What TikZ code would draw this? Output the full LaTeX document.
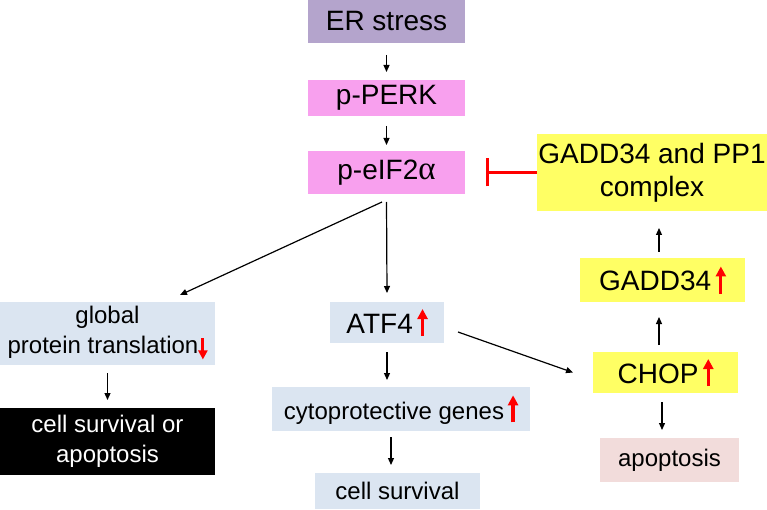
\documentclass[tikz,border=0pt]{standalone}
\usepackage{fontspec}
\setmainfont{Liberation Sans}
\newfontfamily\greekfont{Liberation Serif}
\usetikzlibrary{arrows.meta}
\definecolor{erc}{RGB}{180,164,204}
\definecolor{pinkc}{RGB}{248,160,238}
\definecolor{bluec}{RGB}{219,229,241}
\definecolor{yelc}{RGB}{255,255,100}
\definecolor{apoc}{RGB}{242,220,219}
\newcommand\redup{\tikz[baseline=0pt]\draw[red,line width=3.2pt,-{Triangle[length=10pt,width=10pt]}] (0pt,-3pt) -- (0pt,24pt);}
\newcommand\reddown{\tikz[baseline=0pt]\draw[red,line width=3pt,-{Triangle[length=9pt,width=9pt]}] (0pt,15pt) -- (0pt,-6pt);}
\begin{document}
\begin{tikzpicture}[x=1pt,y=-1pt,
  box/.style={rectangle,inner sep=0pt,outer sep=0pt,align=center,text=black},
  big/.style={font=\fontsize{28}{33}\selectfont},
  small/.style={font=\fontsize{24}{30}\selectfont},
  arr/.style={draw=black,line width=1.2pt,-{Triangle[length=7pt,width=6pt]}},
  inh/.style={draw=red,line width=3pt,-{Bar[width=28pt]}}]
\useasboundingbox (0,0) rectangle (767,510);
\fill[white] (0,0) rectangle (767,510);
% nodes
\node[box,big,fill=erc,minimum width=157pt,minimum height=43pt] (er) at (386.5,21.5) {ER stress};
\node[box,big,fill=pinkc,minimum width=157pt,minimum height=36pt] (perk) at (386.5,98) {p-PERK};
\node[box,big,fill=pinkc,minimum width=157pt,minimum height=43pt] (eif) at (386.5,172.5) {p-eIF2{\greekfont\fontsize{33}{33}\selectfont α}};
\node[box,big,fill=yelc,minimum width=230pt,minimum height=77pt] (gpp) at (652,172.5) {GADD34 and PP1\\complex};
\node[box,big,fill=yelc,minimum width=165pt,minimum height=44pt] (gadd) at (662.5,280) {GADD34\,\redup};
\node[box,big,fill=yelc,minimum width=145pt,minimum height=41pt] (chop) at (665.5,372.5) {CHOP\,\redup};
\node[box,small,fill=apoc,minimum width=139pt,minimum height=44pt] (apo) at (669.5,460) {apoptosis};
\node[box,big,fill=bluec,minimum width=114pt,minimum height=41pt] (atf) at (387,322.5) {ATF4\,\redup};
\node[box,small,fill=bluec,minimum width=215pt,minimum height=63pt] (gpt) at (107.5,333.5) {global\\protein translation\reddown};
\node[box,small,fill=black,text=white,minimum width=215pt,minimum height=67pt] (csa) at (107.5,441.5) {\textcolor{white}{cell survival or}\\\textcolor{white}{apoptosis}};
\node[box,small,fill=bluec,minimum width=258pt,minimum height=44pt] (cyto) at (401,409) {cytoprotective genes\,\redup};
\node[box,small,fill=bluec,minimum width=165pt,minimum height=36pt] (cs) at (397.5,491) {cell survival};
% connectors
\draw[arr,shorten <=12pt,shorten >=8pt] (er) -- (perk);
\draw[arr,shorten <=10pt,shorten >=6pt] (perk) -- (eif);
\draw[arr] ([yshift=-8pt]eif.south) -- ([yshift=9pt]atf.north);
\draw[arr] ([xshift=-4.5pt,yshift=-8pt]eif.south) -- ([xshift=72.5pt,yshift=7pt]gpt.north);
\draw[arr] ([yshift=-8pt]gpt.south) -- ([yshift=8pt]csa.north);
\draw[arr] ([yshift=-9pt]atf.south) -- ([xshift=-14pt,yshift=7pt]cyto.north);
\draw[arr] ([xshift=-10pt,yshift=-6pt]cyto.south) -- ([xshift=-6.5pt,yshift=8pt]cs.north);
\draw[arr] ([xshift=14pt,yshift=-9.5pt]atf.east) -- ([xshift=-20pt]chop.west);
\draw[arr] ([xshift=-3.5pt,yshift=-9pt]chop.south) -- ([xshift=-7.5pt,yshift=8pt]apo.north);
\draw[arr] ([xshift=-6.5pt,yshift=7pt]chop.north) -- ([xshift=-3.5pt,yshift=-15pt]gadd.south);
\draw[arr] ([xshift=-3.5pt,yshift=6pt]gadd.north) -- ([xshift=7pt,yshift=-17pt]gpp.south);
\draw[inh,shorten >=21pt] (gpp.west) -- (eif.east);
\end{tikzpicture}
\end{document}
